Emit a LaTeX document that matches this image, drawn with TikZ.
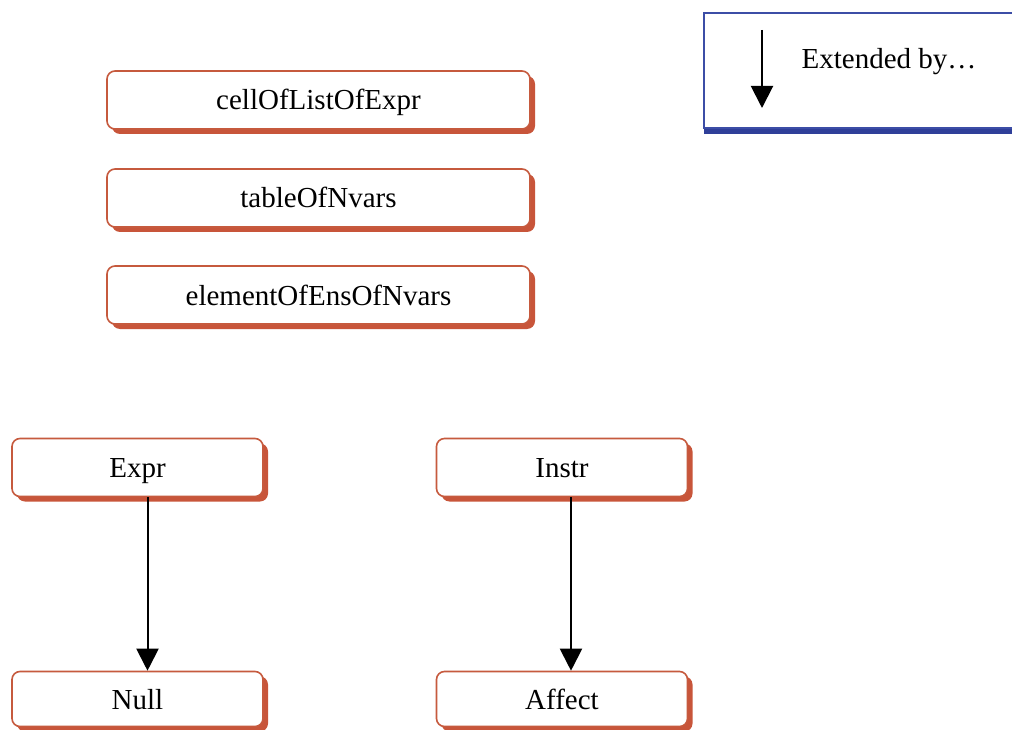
\documentclass[tikz,border=0pt]{standalone}
\usepackage{fontspec}
\setmainfont{Liberation Serif}
\usetikzlibrary{arrows.meta,shadows}
\definecolor{boxline}{HTML}{C65A3E}
\definecolor{boxshade}{HTML}{C8553A}
\definecolor{legline}{HTML}{3C4DA6}
\definecolor{legshade}{HTML}{2F3F99}
\tikzset{
  classbox/.style={draw=boxline, line width=1.6pt, fill=white, rounded corners=8pt,
    inner sep=0pt, minimum height=#1, text height=22pt, text depth=2pt,
    drop shadow={shadow xshift=5pt, shadow yshift=-5pt, fill=boxshade, opacity=1},
    font=\fontsize{29}{33}\selectfont},
  classbox/.default=58pt,
  legendbox/.style={draw=legline, line width=1.6pt, fill=white, inner sep=0pt,
    drop shadow={shadow xshift=0pt, shadow yshift=-6pt, fill=legshade, opacity=1}},
  extends/.style={line width=2pt, -{Triangle[width=22pt,length=22pt]}}
}
\begin{document}
\begin{tikzpicture}[x=1pt,y=-1pt]
\useasboundingbox (0,0) rectangle (1012,730);
\clip (0,0) rectangle (1012,730);
\fill[white] (0,0) rectangle (1012,730);

% legend
\node[legendbox, minimum width=330pt, minimum height=115pt, anchor=north west] (legend) at (703,12) {};
\coordinate (legtop) at (762,30);
\coordinate (legbot) at (762,108);
\draw[extends] (legtop) -- (legbot);
\node[font=\fontsize{29}{33}\selectfont, anchor=base] (legtext) at (889,69) {Extended by…};

% standalone classes
\node[classbox, minimum width=423pt] (cell) at (318.5,100) {cellOfListOfExpr};
\node[classbox, minimum width=423pt] (table) at (318.5,198) {tableOfNvars};
\node[classbox, minimum width=423pt] (elem) at (318.5,295) {elementOfEnsOfNvars};

% hierarchies
\node[classbox, minimum width=251pt] (expr) at (137.5,467.5) {Expr};
\node[classbox=55pt, minimum width=251pt] (null) at (137.5,699) {Null};
\node[classbox, minimum width=251pt] (instr) at (562,467.5) {Instr};
\node[classbox=55pt, minimum width=251pt] (affect) at (562,699) {Affect};

\draw[extends] ([xshift=10pt]expr.south) -- ([xshift=10pt]null.north);
\draw[extends] ([xshift=9pt]instr.south) -- ([xshift=9pt]affect.north);
\end{tikzpicture}
\end{document}
